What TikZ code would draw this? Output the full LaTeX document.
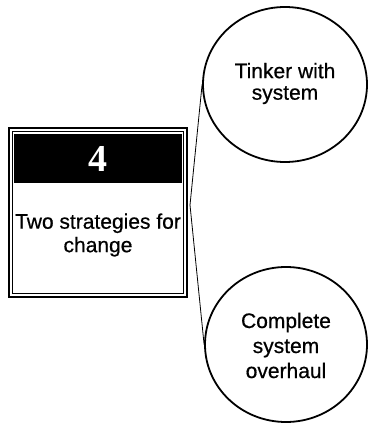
\documentclass[tikz,border=0pt]{standalone}
\usepackage{fontspec}
\setmainfont{Liberation Sans}[FakeBold=0.6]
\newfontfamily\numfont{Liberation Serif}
\usetikzlibrary{shapes.geometric}
\begin{document}
\begin{tikzpicture}[x=1pt,y=-1pt,
  outerframe/.style={draw, line width=2pt, minimum width=178pt, minimum height=169pt, inner sep=0pt},
  innerframe/.style={draw, line width=1pt, minimum width=171pt, minimum height=162pt, inner sep=0pt},
  header/.style={fill=black, minimum width=168pt, minimum height=49pt, inner sep=0pt,
    text=white, font=\numfont\bfseries\fontsize{38}{38}\selectfont},
  label/.style={align=center, font=\fontsize{21}{23.5}\selectfont, inner sep=0pt},
  option/.style={ellipse, draw, line width=1.8pt, inner sep=0pt},
  link/.style={line width=0.8pt}]
  \useasboundingbox (0,0) rectangle (370,423);
  % strategy card
  \node[outerframe] (box) at (97.5,212) {};
  \node[innerframe] (inner) at (97.5,212) {};
  \node[header] (num) at (98,158.5) {4};
  \node[label] (title) at (98,235) {Two strategies for\\change};
  % the two options
  \node[option, minimum width=164pt, minimum height=155pt] (tinker) at (285,84.5) {};
  \node[label, font=\fontsize{21}{21.5}\selectfont] (tinkertext) at (285,83.5) {Tinker with\\system};
  \node[option, minimum width=162pt, minimum height=155pt] (overhaul) at (286,344.5) {};
  \node[label, font=\fontsize{21}{25}\selectfont] (overhaultext) at (286,345.5) {Complete\\system\\overhaul};
  % connectors
  \coordinate (hub) at (190,205);
  \draw[link] (hub) -- (tinker.west);
  \draw[link] (hub) -- (overhaul.west);
\end{tikzpicture}
\end{document}
